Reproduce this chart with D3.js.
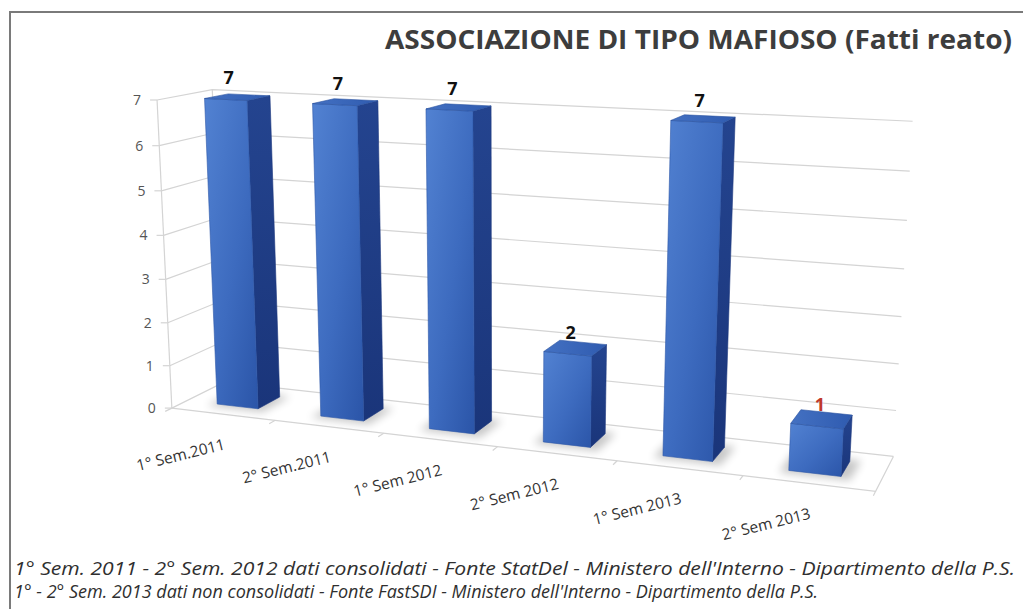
<!DOCTYPE html>
<html>
<head>
<meta charset="utf-8">
<script src="https://cdn.jsdelivr.net/npm/d3@7/dist/d3.min.js"></script>
<style>
  html, body { margin: 0; padding: 0; background: #fff; }
  svg { display: block; }
</style>
</head>
<body>
<svg id="chart" width="1023" height="609"></svg>
<script>
// ---- data ----
const categories = ["1° Sem.2011", "2° Sem.2011", "1° Sem 2012", "2° Sem 2012", "1° Sem 2013", "2° Sem 2013"];
const values = [7, 7, 7, 2, 7, 1];
const yTicks = [0, 1, 2, 3, 4, 5, 6, 7];
const title = "ASSOCIAZIONE DI TIPO MAFIOSO (Fatti reato)";
const notes = [
  "1° Sem. 2011 - 2° Sem. 2012 dati consolidati - Fonte StatDel - Ministero dell'Interno - Dipartimento della P.S.",
  "1° - 2° Sem. 2013 dati non consolidati - Fonte FastSDI - Ministero dell'Interno - Dipartimento della P.S."
];

// ---- 3D view ----
// World space: X runs along the categories (0..6), Y is the value (0..7),
// Z is depth (0 = front of the floor, 1 = back wall).
// The perspective camera is solved from where the plot box corners sit on screen.
const boxAnchors = [
  [[0, 0, 0], [173, 405]], [[1, 0, 0], [276, 418]], [[3, 0, 0], [497, 450]],
  [[5, 0, 0], [742, 480]], [[6, 0, 0], [875, 495]],
  [[0, 0, 1], [223, 389]], [[6, 0, 1], [893, 452]],
  [[0, 7, 0], [157, 101]], [[0, 7, 1], [212, 90]], [[6, 7, 1], [913, 123]],
  [[0, 1, 0], [171, 364]], [[0, 3, 0], [165, 277]], [[0, 5, 0], [161, 189]],
  [[6, 1, 1], [897, 405]], [[6, 3, 1], [902, 315]], [[6, 5, 1], [907, 222]]
];

function solveCamera(pairs) {
  const n = 11, M = Array.from({length: n}, () => new Array(n + 1).fill(0));
  const rows = [];
  pairs.forEach(([[X, Y, Z], [u0, v0]]) => {
    const u = (u0 - 500) / 500, v = (v0 - 300) / 500;
    rows.push([[X, Y, Z, 1, 0, 0, 0, 0, -u * X, -u * Y, -u * Z], u]);
    rows.push([[0, 0, 0, 0, X, Y, Z, 1, -v * X, -v * Y, -v * Z], v]);
  });
  rows.forEach(([a, b]) => {
    for (let i = 0; i < n; i++) {
      for (let j = 0; j < n; j++) M[i][j] += a[i] * a[j];
      M[i][n] += a[i] * b;
    }
  });
  for (let c = 0; c < n; c++) {
    let piv = c;
    for (let r = c + 1; r < n; r++) if (Math.abs(M[r][c]) > Math.abs(M[piv][c])) piv = r;
    [M[c], M[piv]] = [M[piv], M[c]];
    for (let r = 0; r < n; r++) {
      if (r === c) continue;
      const f = M[r][c] / M[c][c];
      for (let k = c; k <= n; k++) M[r][k] -= f * M[c][k];
    }
  }
  return M.map((row, i) => row[n] / row[i]);
}
const cam = solveCamera(boxAnchors);
function project([X, Y, Z]) {
  const w = cam[8] * X + cam[9] * Y + cam[10] * Z + 1;
  const u = (cam[0] * X + cam[1] * Y + cam[2] * Z + cam[3]) / w;
  const v = (cam[4] * X + cam[5] * Y + cam[6] * Z + cam[7]) / w;
  return [u * 500 + 500, v * 500 + 300];
}

// ---- scales ----
const x = d3.scaleBand().domain(categories).range([0, 6]).paddingInner(0.6).paddingOuter(0.3);
const y = d3.scaleLinear().domain([0, 7]).range([0, 7]);
const slot = d3.scaleBand().domain(categories).range([0, 6]);
const barZ = [0.28, 0.72];

const svg = d3.select("#chart");
const line = d3.line();
const poly = pts => line(pts.map(project)) + "Z";

// ---- defs ----
const defs = svg.append("defs");
const gFront = defs.append("linearGradient").attr("id", "front").attr("x1", 0).attr("y1", 0).attr("x2", 1).attr("y2", 1);
gFront.append("stop").attr("offset", "0%").attr("stop-color", "#5282d2");
gFront.append("stop").attr("offset", "55%").attr("stop-color", "#3d6bbf");
gFront.append("stop").attr("offset", "100%").attr("stop-color", "#2b55a8");
const gSide = defs.append("linearGradient").attr("id", "side").attr("x1", 0).attr("y1", 0).attr("x2", 0).attr("y2", 1);
gSide.append("stop").attr("offset", "0%").attr("stop-color", "#24448f");
gSide.append("stop").attr("offset", "100%").attr("stop-color", "#1a357a");
const gTop = defs.append("linearGradient").attr("id", "top").attr("x1", 0).attr("y1", 0).attr("x2", 1).attr("y2", 0);
gTop.append("stop").attr("offset", "0%").attr("stop-color", "#4471c2");
gTop.append("stop").attr("offset", "100%").attr("stop-color", "#2f5bb0");
defs.append("filter").attr("id", "soft").attr("x", "-50%").attr("y", "-50%").attr("width", "200%").attr("height", "200%")
  .append("feGaussianBlur").attr("stdDeviation", 4);

// ---- frame ----
svg.append("rect").attr("x", 10).attr("y", 12).attr("width", 1040).attr("height", 640)
  .attr("fill", "#fff").attr("stroke", "#7a7a7a").attr("stroke-width", 2);

// ---- walls, floor and gridlines ----
const grid = svg.append("g").attr("fill", "none").attr("stroke", "#d4d4d4").attr("stroke-width", 1.2);
yTicks.forEach(t => {
  grid.append("path").attr("d", line([[0, y(t), 0], [0, y(t), 1], [6, y(t), 1]].map(project)));
});
grid.append("path").attr("d", line([[0, 0, 0], [6, 0, 0], [6, 0, 1]].map(project)));
grid.append("path").attr("d", line([[0, 0, 0], [0, y(7), 0]].map(project)));
grid.append("path").attr("d", line([[0, 0, 1], [0, y(7), 1]].map(project)));

// y-axis ticks and labels
yTicks.forEach(t => {
  const [px, py] = project([0, y(t), 0]);
  grid.append("line").attr("x1", px - 7).attr("y1", py).attr("x2", px).attr("y2", py);
  svg.append("text").attr("x", px - 16).attr("y", py).attr("dy", "0.35em")
    .attr("text-anchor", "end").attr("font-family", "Open Sans, sans-serif")
    .attr("font-size", 14).attr("fill", "#555").text(t);
});

// category ticks on the front floor edge
d3.range(0, 7).forEach(i => {
  grid.append("path").attr("d", line([[i, 0, 0], [i, 0, -0.12]].map(project)));
});

// category labels, slanted along the floor edge
categories.forEach(c => {
  const [px, py] = project([slot(c) + slot.bandwidth() / 2, 0, 0]);
  svg.append("text")
    .attr("transform", `translate(${px + 3},${py + 35}) rotate(-14)`)
    .attr("text-anchor", "end").attr("font-family", "Open Sans, sans-serif")
    .attr("font-size", 15.5).attr("fill", "#333").text(c);
});

// ---- bars ----
const bars = categories.map((c, i) => ({c, v: values[i], x0: x(c), x1: x(c) + x.bandwidth(), h: y(values[i])}));

// soft contact shadows on the floor
svg.append("g").selectAll("path").data(bars).join("path")
  .attr("d", b => poly([[b.x0 - 0.06, 0, barZ[0] - 0.08], [b.x1 + 0.08, 0, barZ[0] - 0.08],
                        [b.x1 + 0.08, 0, barZ[1] + 0.05], [b.x0 - 0.06, 0, barZ[1] + 0.05]]))
  .attr("fill", "#000").attr("opacity", 0.22).attr("filter", "url(#soft)");

const barG = svg.append("g").selectAll("g").data(bars).join("g");
barG.append("path")
  .attr("d", b => poly([[b.x1, 0, barZ[0]], [b.x1, 0, barZ[1]], [b.x1, b.h, barZ[1]], [b.x1, b.h, barZ[0]]]))
  .attr("fill", "url(#side)").attr("stroke", "#1c387e").attr("stroke-width", 0.6);
barG.append("path")
  .attr("d", b => poly([[b.x0, 0, barZ[0]], [b.x1, 0, barZ[0]], [b.x1, b.h, barZ[0]], [b.x0, b.h, barZ[0]]]))
  .attr("fill", "url(#front)").attr("stroke", "#2d57a8").attr("stroke-width", 0.6);
barG.append("path")
  .attr("d", b => poly([[b.x0, b.h, barZ[0]], [b.x1, b.h, barZ[0]], [b.x1, b.h, barZ[1]], [b.x0, b.h, barZ[1]]]))
  .attr("fill", "url(#top)").attr("stroke", "#2a52a0").attr("stroke-width", 0.6);

// value labels
barG.append("text")
  .attr("x", b => project([(b.x0 + b.x1) / 2, b.h, barZ[0]])[0] + 3)
  .attr("y", b => project([(b.x0 + b.x1) / 2, b.h, barZ[0]])[1] - 15)
  .attr("text-anchor", "middle").attr("font-family", "Open Sans, sans-serif")
  .attr("font-weight", "bold").attr("font-size", 18)
  .attr("fill", (b, i) => i === bars.length - 1 ? "#c0392b" : "#111")
  .text(b => b.v);

// ---- title and notes ----
svg.append("text").attr("x", 1012).attr("y", 49).attr("text-anchor", "end")
  .attr("font-family", "Open Sans, sans-serif").attr("font-weight", "bold").attr("font-size", 27)
  .attr("fill", "#3d3d3d").attr("textLength", 627).attr("lengthAdjust", "spacingAndGlyphs").text(title);

const noteWidths = [1001, 804];
notes.forEach((t, i) => {
  svg.append("text").attr("x", 14).attr("y", 575 + i * 23)
    .attr("font-family", "Open Sans, sans-serif").attr("font-style", "italic").attr("font-size", 17.5)
    .attr("fill", "#2f2f2f").attr("textLength", noteWidths[i]).attr("lengthAdjust", "spacingAndGlyphs").text(t);
});
</script>
</body>
</html>
